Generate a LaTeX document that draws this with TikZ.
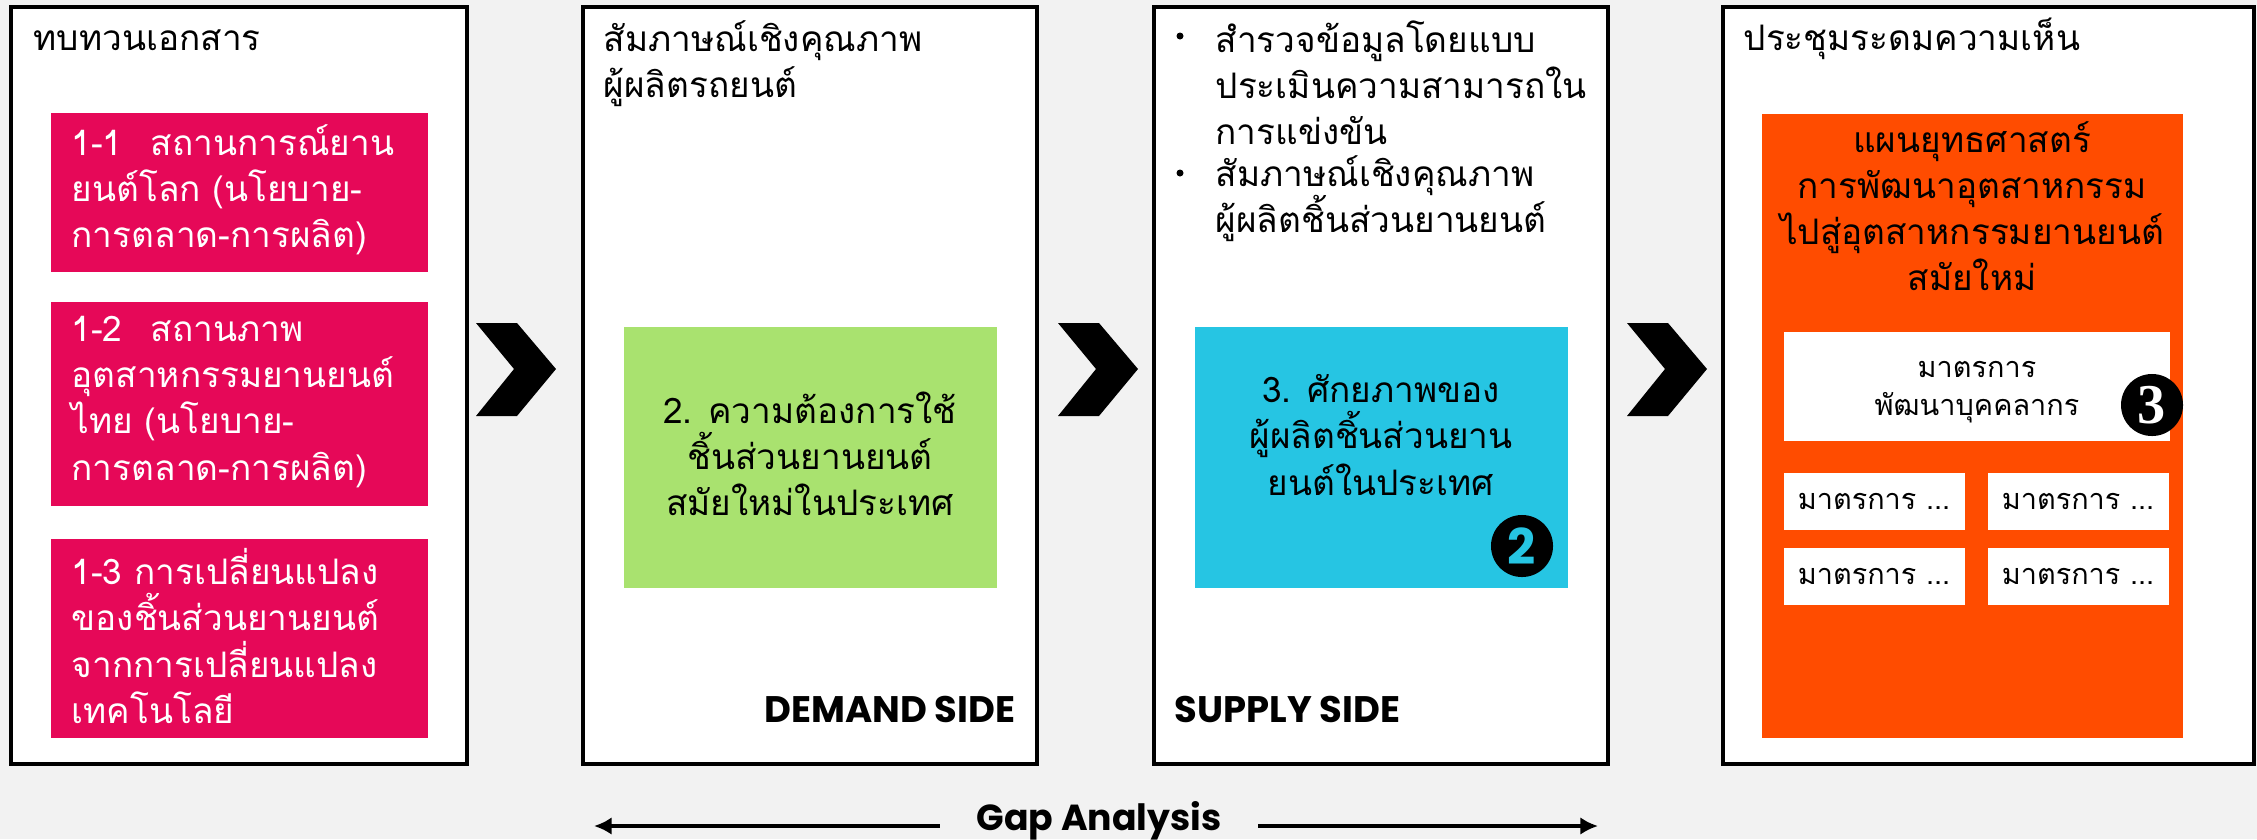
\documentclass[tikz,border=0pt]{standalone}
\usepackage{fontspec}
\setmainfont{Loma}[Script=Thai]
\newfontfamily\popfont{Poppins}
\newfontfamily\chiffre{Liberation Serif}
\usetikzlibrary{arrows.meta}
\setlength{\lineskiplimit}{-20pt}

\definecolor{fond}{RGB}{242,242,242}
\definecolor{rose}{RGB}{230,8,88}
\definecolor{vert}{RGB}{169,226,111}
\definecolor{bleu}{RGB}{38,197,227}
\definecolor{orangeb}{RGB}{255,76,0}

\tikzset{
    cadre/.style={draw=black, line width=1.2pt, fill=white},
    texte/.style={inner sep=0pt, font=\fontsize{10}{13.1}\selectfont},
    blanc/.style={texte, text=white, align=left},
    centre/.style={texte, align=center},
    petit/.style={inner sep=0pt, font=\fontsize{8.2}{10.8}\selectfont, align=center},
    cote/.style={inner sep=0pt, font=\popfont\bfseries\fontsize{10.5}{12}\selectfont},
    rond/.style={circle, fill=black, inner sep=0pt, minimum size=0.62cm},
    fleche/.style={line width=1pt, -{Latex[length=5pt,width=5pt]}}
}

\begin{document}
\begin{tikzpicture}[x=0.01cm, y=-0.01cm]
    % Fond
    \fill[fond] (0,0) rectangle (2257,839);
    \useasboundingbox (0,0) rectangle (2257,839);

    % Les quatre cadres
    \draw[cadre] (11,7) rectangle (467,764);
    \draw[cadre] (583,7) rectangle (1037,764);
    \draw[cadre] (1154,7) rectangle (1608,764);
    \draw[cadre] (1723,7) rectangle (2254,764);

    % Chevrons entre les cadres
    \foreach \x in {476,1058,1627} {
        \fill[black] (\x,323) -- ++(41,0) -- ++(39,46) -- ++(-39,47)
            -- ++(-41,0) -- ++(38,-47) -- cycle;
    }

    % Cadre 1 : revue documentaire
    \node[texte, anchor=base west] (t1) at (33,50) {ทบทวนเอกสาร};
    \fill[rose] (51,113) rectangle (428,272);
    \fill[rose] (51,302) rectangle (428,506);
    \fill[rose] (51,539) rectangle (428,738);
    \node[blanc, anchor=west] (r1) at (71,190)
        {1-1\hspace{0.8em}สถานการณ์ยาน\\ยนต์โลก (นโยบาย-\\การตลาด-การผลิต)};
    \node[blanc, anchor=west] (r2) at (71,402)
        {1-2\hspace{0.8em}สถานภาพ\\อุตสาหกรรมยานยนต์\\ไทย (นโยบาย-\\การตลาด-การผลิต)};
    \node[blanc, anchor=west] (r3) at (71,636)
        {1-3 การเปลี่ยนแปลง\\ของชิ้นส่วนยานยนต์\\จากการเปลี่ยนแปลง\\เทคโนโลยี};

    % Cadre 2 : demande
    \node[texte, align=left, anchor=north west] (t2) at (603,20)
        {สัมภาษณ์เชิงคุณภาพ\\ผู้ผลิตรถยนต์};
    \fill[vert] (624,327) rectangle (997,588);
    \node[centre] (v) at (810,454)
        {2. ความต้องการใช้\\ชิ้นส่วนยานยนต์\\สมัยใหม่ในประเทศ};
    \node[cote, anchor=east] (dem) at (1016,709) {DEMAND SIDE};

    % Cadre 3 : offre
    \node[circle, fill, inner sep=0pt, minimum size=0.07cm] (p1) at (1180,36) {};
    \node[circle, fill, inner sep=0pt, minimum size=0.07cm] (p2) at (1180,173) {};
    \node[texte, align=left, anchor=north west] (s1) at (1215,20)
        {สำรวจข้อมูลโดยแบบ\\ประเมินความสามารถใน\\การแข่งขัน};
    \node[texte, align=left, anchor=north west] (s2) at (1215,155)
        {สัมภาษณ์เชิงคุณภาพ\\ผู้ผลิตชิ้นส่วนยานยนต์};
    \fill[bleu] (1195,327) rectangle (1568,588);
    \node[centre] (b) at (1381,435)
        {3. ศักยภาพของ\\ผู้ผลิตชิ้นส่วนยาน\\ยนต์ในประเทศ};
    \node[rond, text=bleu, font=\popfont\bfseries\fontsize{14}{14}\selectfont] (n2) at (1522,546) {2};
    \node[cote, anchor=west] (sup) at (1174,709) {SUPPLY SIDE};

    % Cadre 4 : plan
    \node[texte, anchor=base west] (t4) at (1743,50) {ประชุมระดมความเห็น};
    \fill[orangeb] (1762,114) rectangle (2183,738);
    \node[centre] (o) at (1972,206)
        {แผนยุทธศาสตร์\\การพัฒนาอุตสาหกรรม\\ไปสู่อุตสาหกรรมยานยนต์\\สมัยใหม่};
    \fill[white] (1784,332) rectangle (2170,441);
    \node[petit] (m0) at (1977,392) {มาตรการ\\พัฒนาบุคคลากร};
    \node[rond, text=white, font=\chiffre\bfseries\fontsize{16}{16}\selectfont] (n3) at (2152,405) {3};
    \foreach \x/\y [count=\i] in {1784/473, 1988/473, 1784/548, 1988/548} {
        \fill[white] (\x,\y) rectangle ++(181,57);
        \node[petit] (m\i) at (\x+90,\y+28) {มาตรการ ...};
    }

    % Gap analysis
    \coordinate (gauche) at (594,826);
    \coordinate (droite) at (1598,826);
    \node[cote, font=\popfont\bfseries\fontsize{10.3}{12}\selectfont, inner xsep=0.36cm,
        anchor=base] (gap) at (1099,830) {Gap Analysis};
    \draw[fleche] (gap.west |- gauche) -- (gauche);
    \draw[fleche] (gap.east |- droite) -- (droite);
\end{tikzpicture}
\end{document}
